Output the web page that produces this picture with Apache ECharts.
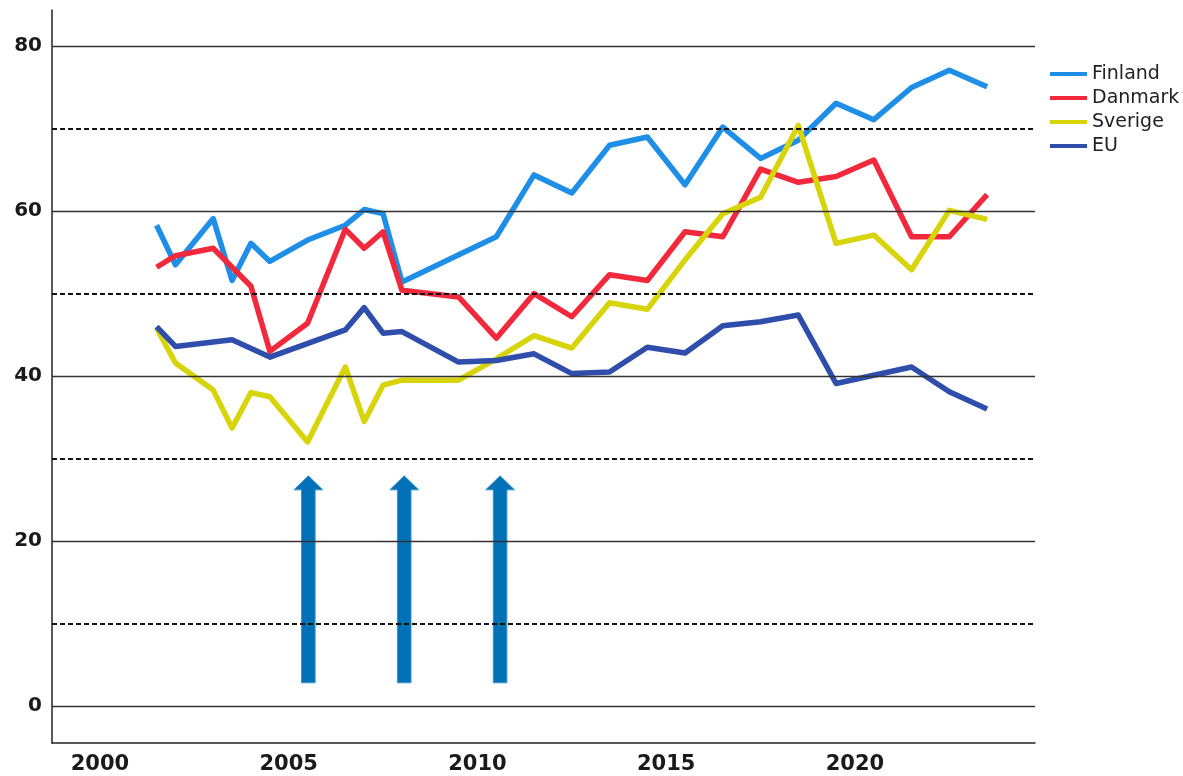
<!DOCTYPE html>
<html>
<head>
<meta charset="utf-8">
<script src="https://cdn.jsdelivr.net/npm/echarts@6/dist/echarts.min.js"></script>
<style>
html,body{margin:0;padding:0;background:#fff;}
#chart{width:1183px;height:776px;}
</style>
</head>
<body>
<div id="chart"></div>
<script>
// ---- data ----
const xTickLabels = [2000, 2005, 2010, 2015, 2020];
const yTickLabels = [0, 20, 40, 60, 80];
const solidGrid = [0, 20, 40, 60, 80];
const dashedGrid = [10, 30, 50, 70];

const finlandYears = [2001.5,2002,2003,2003.5,2004,2004.5,2005.5,2006.5,2007,2007.5,2008,2010.5,2011.5,2012.5,2013.5,2014.5,2015.5,2016.5,2017.5,2018.5,2019.5,2020.5,2021.5,2022.5,2023.5];
const finlandValues = [58.3,53.5,59.1,51.6,56.1,53.9,56.5,58.3,60.2,59.7,51.4,56.9,64.4,62.2,68.0,69.0,63.2,70.2,66.4,68.6,73.1,71.1,75.0,77.1,75.1];

const danmarkYears = [2001.5,2002,2003,2004,2004.5,2005.5,2006.5,2007,2007.5,2008,2009.5,2010.5,2011.5,2012.5,2013.5,2014.5,2015.5,2016.5,2017.5,2018.5,2019.5,2020.5,2021.5,2022.5,2023.5];
const danmarkValues = [53.2,54.6,55.5,50.9,43.0,46.4,57.8,55.5,57.5,50.4,49.6,44.6,50.0,47.2,52.3,51.6,57.5,56.9,65.1,63.5,64.2,66.2,56.9,56.9,62.0];

const sverigeYears = [2001.5,2002,2003,2003.5,2004,2004.5,2005.5,2006.5,2007,2007.5,2008,2009.5,2010.5,2011.5,2012.5,2013.5,2014.5,2015.5,2016.5,2017.5,2018.5,2019.5,2020.5,2021.5,2022.5,2023.5];
const sverigeValues = [45.8,41.6,38.3,33.7,38.0,37.5,32.0,41.1,34.5,38.9,39.5,39.5,42.1,44.9,43.4,48.9,48.1,54.1,59.7,61.7,70.4,56.1,57.1,52.9,60.1,59.0];

const euYears = [2001.5,2002,2003.5,2004.5,2006.5,2007,2007.5,2008,2009.5,2010.5,2011.5,2012.5,2013.5,2014.5,2015.5,2016.5,2017.5,2018.5,2019.5,2020.5,2021.5,2022.5,2023.5];
const euValues = [46.0,43.6,44.4,42.3,45.6,48.3,45.2,45.4,41.7,41.9,42.7,40.3,40.5,43.5,42.8,46.1,46.6,47.4,39.1,40.1,41.1,38.1,36.0];

const arrowYears = [2005.52, 2008.06, 2010.6];
const arrowFrom = 2.8;
const arrowTo = 27.9;

// ---- build ----
const pair = (xs, ys) => xs.map((x, i) => [x, ys[i]]);
const colors = { Finland: '#1f8ee6', Danmark: '#f2293c', Sverige: '#d8d40a', EU: '#2f4dab' };

function lineSeries(name, xs, ys) {
  return {
    name: name, type: 'line', data: pair(xs, ys),
    showSymbol: false, symbol: 'none', z: 4,
    lineStyle: { width: 5.5, color: colors[name], join: 'round' },
    itemStyle: { color: colors[name] }
  };
}

const gridMarks = solidGrid.map(v => ({ yAxis: v, lineStyle: { type: 'solid', color: '#333', width: 1.4 } }))
  .concat(dashedGrid.map(v => ({ yAxis: v, lineStyle: { type: [5, 3], color: '#111', width: 2 } })));

const chart = echarts.init(document.getElementById('chart'), null, { renderer: 'canvas' });
chart.setOption({
  backgroundColor: '#ffffff',
  animation: false,
  grid: { left: 52, right: 148, top: 10, bottom: 33, containLabel: false },
  legend: {
    orient: 'vertical', left: 1045, top: 59,
    icon: 'rect', itemWidth: 37, itemHeight: 4, itemGap: 4,
    textStyle: { fontFamily: 'DejaVu Sans', fontSize: 19, lineHeight: 20, color: '#222' },
    data: ['Finland', 'Danmark', 'Sverige', 'EU']
  },
  xAxis: {
    type: 'value', min: 1998.73, max: 2024.77,
    axisLine: { show: true, onZero: false, lineStyle: { color: '#222', width: 1.5 } },
    axisTick: { show: false },
    splitLine: { show: false },
    axisLabel: {
      customValues: xTickLabels, margin: 11,
      fontFamily: 'DejaVu Sans', fontWeight: 'bold', fontSize: 21, color: '#1a1a1a',
      formatter: v => String(v)
    }
  },
  yAxis: {
    type: 'value', min: -4.5, max: 84.4,
    axisLine: { show: true, onZero: false, lineStyle: { color: '#222', width: 1.5 } },
    axisTick: { show: false },
    splitLine: { show: false },
    axisLabel: {
      customValues: yTickLabels, margin: 10,
      padding: [8, 0, 0, 0],
      fontFamily: 'DejaVu Sans', fontWeight: 'bold', fontSize: 20, color: '#1a1a1a',
      formatter: v => String(v)
    }
  },
  series: [
    {
      name: 'grid', type: 'line', data: [], z: 1, silent: true,
      markLine: { silent: true, symbol: 'none', label: { show: false }, data: gridMarks, animation: false }
    },
    {
      name: 'arrows', type: 'custom', z: 3, silent: true,
      data: arrowYears.map(x => [x, arrowFrom, arrowTo]),
      encode: { x: 0, y: [1, 2] },
      renderItem: function (params, api) {
        const base = api.coord([api.value(0), api.value(1)]);
        const tip = api.coord([api.value(0), api.value(2)]);
        const cx = base[0], sw = 6.8, hw = 14.4, hh = 14;
        return {
          type: 'polygon',
          shape: { points: [
            [cx - sw, base[1]], [cx - sw, tip[1] + hh], [cx - hw, tip[1] + hh],
            [cx, tip[1]], [cx + hw, tip[1] + hh], [cx + sw, tip[1] + hh], [cx + sw, base[1]]
          ] },
          style: { fill: '#0071b6', stroke: '#3b93cc', lineWidth: 1 }
        };
      }
    },
    lineSeries('Finland', finlandYears, finlandValues),
    lineSeries('Danmark', danmarkYears, danmarkValues),
    lineSeries('Sverige', sverigeYears, sverigeValues),
    lineSeries('EU', euYears, euValues)
  ]
});
</script>
</body>
</html>
